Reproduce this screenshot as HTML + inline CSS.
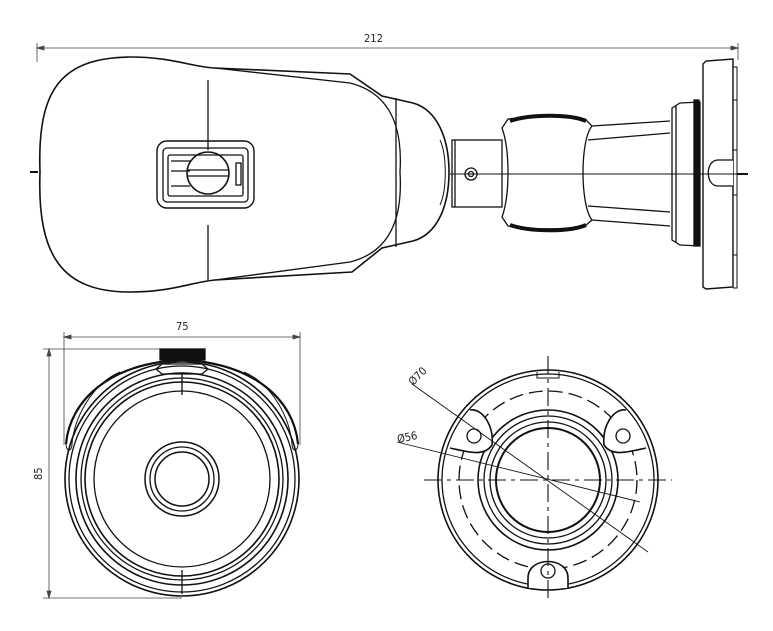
<!DOCTYPE html>
<html><head><meta charset="utf-8"><style>
html,body{margin:0;padding:0;background:#fff;}
svg{display:block;}
text{font-family:"DejaVu Sans Condensed","Liberation Sans",sans-serif;font-size:11px;fill:#222;}
</style></head><body>
<svg width="773" height="631" viewBox="0 0 773 631" xmlns="http://www.w3.org/2000/svg">
<g fill="none" stroke="#111" stroke-width="1.3">
<!-- 212 dimension -->
<g stroke-width="0.8" stroke="#444">
<line x1="37" y1="48" x2="737" y2="48"/>
<line x1="37" y1="43" x2="37" y2="62"/>
<line x1="738" y1="43" x2="738" y2="60"/>
<path d="M37 48 l7 -2 v4 z M738 48 l-7 -2 v4 z" fill="#444"/>
</g>
<!-- side body -->
<path d="M40 172 C37 88 62 58 130 57 C172 57 192 67 215 68 L350 74 L382 96 L413 103 C438 110 449 140 449 172 C449 205 438 234 413 241 L382 248 L352 272 L215 280 C192 282 172 292 130 292 C62 292 37 256 40 172 Z" stroke-width="1.6"/>
<path d="M215 68 L350 83 C398 95 402 140 400 172 C402 205 398 250 350 262 L215 280"/>
<line x1="396" y1="98" x2="396" y2="247"/>
<path d="M440 140 C447 155 447 190 440 205" stroke-width="1"/>
<line x1="30" y1="172" x2="38" y2="172" stroke-width="2"/>
<!-- window -->
<rect x="157" y="141" width="97" height="67" rx="10" stroke-width="1.4"/>
<rect x="163" y="148" width="85" height="54" rx="4"/>
<rect x="168" y="155" width="75" height="41" rx="2"/>
<line x1="171" y1="161" x2="190" y2="161"/><line x1="171" y1="171" x2="190" y2="171"/><line x1="171" y1="186" x2="190" y2="186"/>
<circle cx="208" cy="173" r="21" stroke-width="1.6"/>
<line x1="188" y1="170" x2="228" y2="170"/><line x1="188" y1="176" x2="228" y2="176"/>
<rect x="236" y="163" width="5" height="22"/>
<line x1="208" y1="80" x2="208" y2="150"/>
<line x1="208" y1="225" x2="208" y2="280"/>
<!-- arm -->
<rect x="452" y="140" width="50" height="67"/>
<line x1="455" y1="140" x2="455" y2="207"/>
<circle cx="471" cy="174" r="6"/><circle cx="471" cy="174" r="2.5"/>
<path d="M502 128 L508 119 C530 116 565 116 585 119 L592 126 C580 140 580 205 592 220 L585 226 C565 230 530 230 508 226 L502 217 C510 195 510 150 502 128 Z"/>
<path d="M510 121 C530 114 570 114 586 121" stroke-width="4"/>
<path d="M510 225 C530 232 570 232 586 225" stroke-width="4"/>
<path d="M592 126 L670 121 M588 140 L670 133 M588 206 L670 212 M592 220 L670 226"/>
<path d="M672 108 L680 103 L700 102 L700 246 L680 245 L672 240 Z"/>
<line x1="676" y1="106" x2="676" y2="242"/>
<rect x="694" y="100" width="5" height="146" fill="#111"/>
<path d="M703 64 L706 61 L733 59 L733 287 L706 289 L703 287 Z" stroke-width="1.4"/>
<path d="M733 67 H737 V288 H733 M733 100 H737 M733 150 H737 M733 195 H737 M733 255 H737" stroke-width="1"/>
<path d="M733 160 H718 C705 160 705 186 718 186 H733" fill="#fff"/>
<line x1="450" y1="174" x2="742" y2="174" stroke-width="0.9"/>
<line x1="737" y1="174" x2="748" y2="174" stroke-width="2"/>
<!-- front view dims -->
<g stroke-width="0.8" stroke="#444">
<line x1="64" y1="337" x2="300" y2="337"/>
<line x1="64" y1="332" x2="64" y2="445"/>
<line x1="300" y1="332" x2="300" y2="445"/>
<path d="M64 337 l7 -2 v4 z M300 337 l-7 -2 v4 z" fill="#444"/>
<line x1="49" y1="349" x2="49" y2="598"/>
<line x1="43" y1="349" x2="162" y2="349"/>
<line x1="43" y1="598" x2="182" y2="598"/>
<path d="M49 349 l-2 7 h4 z M49 598 l-2 -7 h4 z" fill="#444"/>
</g>
<!-- front view -->
<circle cx="182" cy="479" r="117" stroke-width="1.6"/>
<circle cx="182" cy="479" r="113"/>
<circle cx="182" cy="479" r="106" stroke-width="1.6"/>
<circle cx="182" cy="479" r="101"/>
<circle cx="182" cy="479" r="97" stroke-width="1.6"/>
<circle cx="182" cy="479" r="88"/>
<circle cx="182" cy="479" r="37" stroke-width="1.5"/>
<circle cx="182" cy="479" r="32"/>
<circle cx="182" cy="479" r="27" stroke-width="1.5"/>
<path d="M66 444 C70 400 110 363 182 360 C254 363 294 400 298 444" stroke-width="2.2"/>
<path d="M66 444 C66 452 72 452 72 444 C74 420 90 385 120 372" stroke-width="1"/>
<path d="M298 444 C298 452 292 452 292 444 C290 420 274 385 244 372" stroke-width="1"/>
<path d="M156 369 L162 364 H202 L208 369 L202 374 H162 Z"/>
<rect x="160" y="349" width="45" height="11" fill="#111"/>
<line x1="182" y1="374" x2="182" y2="395"/>
<line x1="182" y1="570" x2="182" y2="594"/>
<!-- bottom view -->
<circle cx="548" cy="480" r="110" stroke-width="1.6"/>
<circle cx="548" cy="480" r="106"/>
<circle cx="548" cy="480" r="89" stroke-dasharray="14 6"/>
<circle cx="548" cy="480" r="70" stroke-width="1.6"/>
<circle cx="548" cy="480" r="64"/>
<circle cx="548" cy="480" r="58" stroke-width="1.3"/>
<circle cx="548" cy="480" r="52" stroke-width="2"/>
<path d="M470 410 C482 408 494 425 492 445 C484 457 468 452 450 448" fill="#fff" stroke-width="1.6"/>
<circle cx="474" cy="436" r="7"/>
<path d="M626 410 C614 408 602 425 604 445 C612 457 628 452 646 448" fill="#fff" stroke-width="1.6"/>
<circle cx="623" cy="436" r="7"/>
<path d="M528 588 V578 C528 556 568 556 568 578 V588" fill="#fff" stroke-width="1.6"/>
<circle cx="548" cy="571" r="7"/>
<path d="M537 372 V378 H559 V372" stroke-width="1"/>
<line x1="424" y1="480" x2="672" y2="480" stroke-dasharray="18 5 4 5" stroke-width="1.1"/>
<line x1="548" y1="356" x2="548" y2="600" stroke-dasharray="18 5 4 5" stroke-width="1.1"/>
<line x1="412" y1="384" x2="648" y2="552" stroke-width="0.9"/>
<line x1="397" y1="442" x2="640" y2="502" stroke-width="0.9"/>
</g>
<text x="364" y="42">212</text>
<text x="176" y="330">75</text>
<text transform="translate(42,480) rotate(-90)">85</text>
<text transform="translate(413,386) rotate(-45)" font-size="10">Ø70</text>
<text transform="translate(398,443) rotate(-12)" font-size="10">Ø56</text>
</svg>
</body></html>
